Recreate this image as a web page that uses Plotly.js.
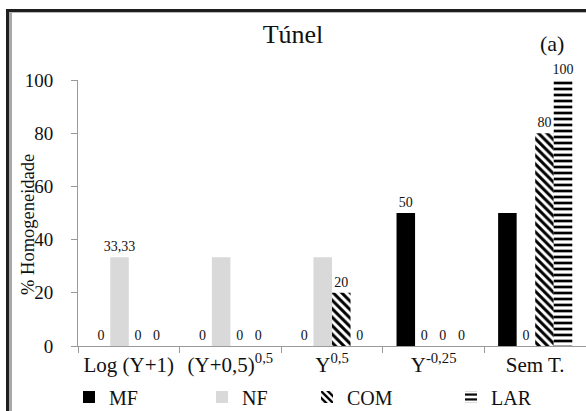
<!DOCTYPE html>
<html>
<head>
<meta charset="utf-8">
<script src="https://cdn.plot.ly/plotly-3.0.1.min.js"></script>
<style>
  html, body { margin: 0; padding: 0; background: #fff; }
  #wrap { position: relative; width: 586px; height: 411px; overflow: hidden; }
  #chart { position: absolute; left: 0; top: 0; width: 586px; height: 411px; }
  /* window frame along the left and top edges */
  #frame {
    position: absolute; left: 6px; top: 9px; right: -10px; bottom: -10px;
    border-left: 3px solid #1e1e1e; border-top: 3px solid #1e1e1e;
    pointer-events: none;
  }
  #frame-inner {
    position: absolute; left: 0; top: 0; right: 0; bottom: 0;
    border-left: 3px solid #a8a8a8; border-top: 1px solid #b8b8b8;
  }
</style>
</head>
<body>
<div id="wrap">
  <div id="chart"></div>
  <div id="frame"><div id="frame-inner"></div></div>
</div>
<script>
// Transformations compared
const categories = ['Log (Y+1)', '(Y+0,5)<sup>0,5</sup>', 'Y<sup>0,5</sup>', 'Y<sup>-0,25</sup>', 'Sem T.'];

// % homogeneity per series
const mfValues  = [0, 0, 0, 50, 50];
const nfValues  = [33.33, 33.33, 33.33, 0, 0];
const comValues = [0, 0, 20, 0, 80];
const larValues = [0, 0, 0, 0, 100];

// which bars carry a value label
const mfLabelled  = [true, true, true, true, false];
const nfLabelled  = [true, false, false, true, true];
const comLabelled = [true, true, true, true, true];
const larLabelled = [true, true, true, true, true];

const seriesNames = ['MF', 'NF', 'COM', 'LAR'];

const FONT = '"Liberation Serif", "Times New Roman", serif';

function barTrace(name, values, shown, marker, legendId) {
  return {
    type: 'bar',
    name: name,
    x: categories,
    y: values,
    text: values.map(v => String(v).replace('.', ',')),
    textposition: shown.map(s => s ? 'outside' : 'none'),
    textangle: 0,
    cliponaxis: false,
    constraintext: 'none',
    outsidetextfont: { family: FONT, size: 14, color: '#111' },
    marker: marker,
    legend: legendId,
    hoverinfo: 'x+y+name'
  };
}

const traces = [
  barTrace(seriesNames[0], mfValues, mfLabelled,
    { color: '#000000', line: { width: 0 } }, 'legend'),
  barTrace(seriesNames[1], nfValues, nfLabelled,
    { color: '#d9d9d9', line: { width: 0 } }, 'legend2'),
  barTrace(seriesNames[2], comValues, comLabelled,
    { color: '#ffffff', line: { width: 0 },
      pattern: { shape: '\\', fgcolor: '#000000', bgcolor: '#ffffff', size: 6, solidity: 0.5, fillmode: 'replace' } }, 'legend3'),
  barTrace(seriesNames[3], larValues, larLabelled,
    { color: '#ffffff', line: { width: 0 },
      pattern: { shape: '-', fgcolor: '#000000', bgcolor: '#ffffff', size: 6, solidity: 0.45, fillmode: 'replace' } }, 'legend4')
];

const W = 586, H = 411;
function legendAt(px) {
  return {
    x: px / W, xref: 'container', xanchor: 'left',
    y: 14 / H, yref: 'container', yanchor: 'middle',
    orientation: 'h', bgcolor: 'rgba(0,0,0,0)', borderwidth: 0,
    font: { family: FONT, size: 20, color: '#111' },
    itemwidth: 30, tracegroupgap: 0
  };
}

const layout = {
  width: W,
  height: H,
  paper_bgcolor: '#ffffff',
  plot_bgcolor: '#ffffff',
  margin: { l: 78, r: 0, t: 79.5, b: 65, pad: 0 },
  font: { family: FONT, color: '#111' },
  title: {
    text: 'Túnel',
    font: { family: FONT, size: 26, color: '#111' },
    x: 0.5, xref: 'container', xanchor: 'center',
    y: 1 - 34 / H, yref: 'container', yanchor: 'middle'
  },
  barmode: 'group',
  bargap: 0.27,
  bargroupgap: 0,
  xaxis: {
    type: 'category',
    showline: true, linecolor: '#9a9a9a', linewidth: 1,
    ticks: 'outside', tickson: 'boundaries', ticklen: 6, tickcolor: '#9a9a9a',
    showgrid: false, zeroline: false,
    tickfont: { family: FONT, size: 21, color: '#111' },
    fixedrange: true
  },
  yaxis: {
    range: [0, 100], dtick: 20,
    showline: true, linecolor: '#9a9a9a', linewidth: 1,
    ticks: 'outside', ticklen: 6, tickcolor: '#9a9a9a',
    ticklabelstandoff: 14,
    showgrid: false, zeroline: false,
    tickfont: { family: FONT, size: 19, color: '#111' },
    fixedrange: true
  },
  showlegend: true,
  legend: legendAt(69),
  legend2: legendAt(202),
  legend3: legendAt(307),
  legend4: legendAt(451),
  annotations: [
    {
      text: '% Homogeneidade', textangle: -90,
      xref: 'paper', yref: 'paper', x: 0, y: 0.5,
      xanchor: 'center', yanchor: 'middle', xshift: -50, yshift: -12,
      showarrow: false,
      font: { family: FONT, size: 18.5, color: '#111' }
    },
    {
      text: '(a)',
      xref: 'paper', yref: 'paper', x: (552 - 78) / 508, y: 1 + 37 / 266.5,
      xanchor: 'center', yanchor: 'middle',
      showarrow: false,
      font: { family: FONT, size: 22, color: '#111' }
    }
  ]
};

Plotly.newPlot('chart', traces, layout, { staticPlot: true, displayModeBar: false });
</script>
</body>
</html>
